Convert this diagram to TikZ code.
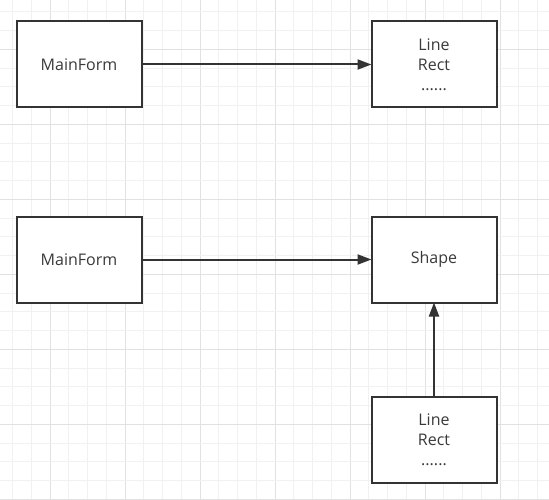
\documentclass[tikz,border=0pt]{standalone}
\usepackage{fontspec}
\setmainfont{Open Sans}
\usetikzlibrary{arrows.meta}
\definecolor{ink}{HTML}{333333}
\definecolor{txt}{HTML}{3A3A3A}
\definecolor{gminor}{HTML}{F1F1F1}
\definecolor{gmajor}{HTML}{E1E1E1}
\begin{document}
\begin{tikzpicture}[x=1pt,y=-1pt,
  box/.style={draw=ink, line width=2pt, fill=white, minimum width=125pt, minimum height=86pt, inner sep=0pt, outer sep=0pt,
    font=\fontsize{16pt}{20pt}\selectfont, text=txt, align=center},
  conn/.style={draw=ink, line width=2pt, -{Triangle[length=14pt,width=10pt]}}]
\useasboundingbox (0,0) rectangle (549,500);
\fill[white] (0,0) rectangle (549,500);
% grid
\foreach \k in {0,...,29} {
  \pgfmathsetmacro{\gx}{12.5+18.75*\k}
  \pgfmathtruncatemacro{\m}{mod(\k,4)}
  \ifnum\m=2
    \draw[gmajor, line width=1pt] (\gx,0) -- (\gx,500);
  \else
    \draw[gminor, line width=1pt] (\gx,0) -- (\gx,500);
  \fi
}
\foreach \k in {0,...,26} {
  \pgfmathsetmacro{\gy}{11.8+18.75*\k}
  \pgfmathtruncatemacro{\m}{mod(\k,4)}
  \ifnum\m=2
    \draw[gmajor, line width=1pt] (0,\gy) -- (549,\gy);
  \else
    \draw[gminor, line width=1pt] (0,\gy) -- (549,\gy);
  \fi
}
% boxes
\node[box] (mf1) at (79,64.5) {MainForm};
\node[box] (lr1) at (434,64.5) {Line\\Rect\\......};
\node[box] (mf2) at (79,259.5) {MainForm};
\node[box] (sh) at (434,259.5) {Shape};
\node[box] (lr2) at (434,439.5) {Line\\Rect\\......};
% connectors
\draw[conn] (mf1) -- (lr1);
\draw[conn] (mf2) -- (sh);
\draw[conn] (lr2) -- (sh);
\end{tikzpicture}
\end{document}
